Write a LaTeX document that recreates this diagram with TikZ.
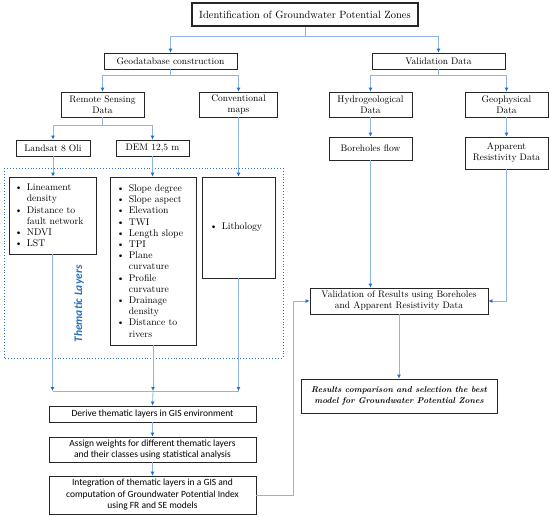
\documentclass[tikz,border=0pt]{standalone}
\usepackage{fontspec}
\newfontfamily\carlito{Carlito}
\usetikzlibrary{arrows.meta}
\definecolor{ln}{RGB}{141,180,226}
\definecolor{ah}{RGB}{31,110,210}
\definecolor{dotc}{RGB}{46,110,190}
\definecolor{thc}{RGB}{40,112,200}
\newcommand\bl{\makebox[12pt][l]{\textbullet}}
\newcommand\ind{\hspace*{12pt}}
\begin{document}
\begin{tikzpicture}[x=1pt,y=-1pt,
  box/.style={draw=black!85, line width=0.8pt, inner sep=0pt, align=center,
    font=\fontsize{9.5}{11}\selectfont},
  sbox/.style={box, font=\carlito\fontsize{9.5}{11.5}\selectfont},
  lst/.style={inner sep=0pt, align=left, anchor=west, font=\fontsize{9.7}{11.2}\selectfont},
  conn/.style={draw=ln, line width=0.8pt},
  arr/.style={conn, -{Latex[length=4pt,width=4pt,color=ah]}}
]
\useasboundingbox (0,0) rectangle (550,517);
% top level
\node[box, line width=1.2pt, minimum width=226pt, minimum height=23pt, font=\fontsize{10.5}{12}\selectfont] (top) at (305,14.5) {Identification of Groundwater Potential Zones};
\node[box, minimum width=133pt, minimum height=16pt] (geo) at (170.5,61) {Geodatabase construction};
\node[box, minimum width=133pt, minimum height=16pt] (val) at (438.5,61) {Validation Data};
\node[box, minimum width=83pt, minimum height=25pt] (rs) at (102.5,104.5) {Remote Sensing\\Data};
\node[box, minimum width=78pt, minimum height=25pt] (conv) at (238.5,104.5) {Conventional\\maps};
\node[box, minimum width=83pt, minimum height=25pt] (hyd) at (370.5,104.5) {Hydrogeological\\Data};
\node[box, minimum width=83pt, minimum height=25pt] (gph) at (506.5,104.5) {Geophysical\\Data};
\node[box, minimum width=74pt, minimum height=16pt] (lsat) at (53,148) {Landsat 8 Oli};
\node[box, minimum width=73pt, minimum height=16pt] (dem) at (152.5,148) {DEM 12,5 m};
\node[box, minimum width=83pt, minimum height=23pt] (bore) at (370.5,148.5) {Boreholes flow};
\node[box, minimum width=83pt, minimum height=32pt] (ares) at (506.5,153) {Apparent\\Resistivity Data};
% thematic layers frame
\draw[dotc, line width=0.9pt, dotted] (4,168) rectangle (283,358);
\node[box, minimum width=87pt, minimum height=77pt] (l1) at (52.5,215.5) {};
\node[box, minimum width=86pt, minimum height=168pt] (l2) at (153,261) {};
\node[box, minimum width=73pt, minimum height=101pt] (l3) at (238.5,227.5) {};
\node[lst] (t1) at ([xshift=6pt]l1.west) {\bl Lineament\\\ind density\\\bl Distance to\\\ind fault network\\\bl NDVI\\\bl LST};
\node[lst] (t2) at ([xshift=7pt]l2.west) {\bl Slope degree\\\bl Slope aspect\\\bl Elevation\\\bl TWI\\\bl Length slope\\\bl TPI\\\bl Plane\\\ind curvature\\\bl Profile\\\ind curvature\\\bl Drainage\\\ind density\\\bl Distance to\\\ind rivers};
\node[lst] (t3) at ([xshift=8pt]l3.west) {\bl Lithology};
\node[rotate=90, text=thc, font=\carlito\bfseries\itshape\fontsize{11.5}{12}\selectfont] (thl) at (79,304) {Thematic Layers};
% bottom chain
\node[sbox, minimum width=207pt, minimum height=16pt] (der) at (152.5,414) {Derive thematic layers in GIS environment};
\node[sbox, minimum width=207pt, minimum height=25pt] (asg) at (152.5,449.5) {Assign weights for different thematic layers\\and their classes using statistical analysis};
\node[sbox, minimum width=207pt, minimum height=38pt] (int) at (152.5,495) {Integration of thematic layers in a GIS and\\computation of Groundwater Potential Index\\using FR and SE models};
\node[box, minimum width=178pt, minimum height=26pt] (vres) at (399,301) {Validation of Results using Boreholes\\and Apparent Resistivity Data};
\node[box, minimum width=196pt, minimum height=34pt, font=\bfseries\itshape\fontsize{8.4}{11}\selectfont] (res) at (399,396) {Results comparison and selection\ the best\\model for Groundwater Potential Zones};
% connectors
\draw[conn] (top.south) -- ++(0,10) coordinate (j1);
\draw[arr] (j1) -| (geo.north);
\draw[arr] (j1) -| (val.north);
\draw[conn] (geo.south) -- ++(0,6) coordinate (j2);
\draw[arr] (j2) -| (rs.north);
\draw[arr] (j2) -| (conv.north);
\draw[conn] (val.south) -- ++(0,6) coordinate (j3);
\draw[arr] (j3) -| (hyd.north);
\draw[arr] (j3) -| (gph.north);
\draw[conn] (rs.south) -- ++(0,8) coordinate (j4);
\draw[arr] (j4) -| (lsat.north);
\draw[arr] (j4) -| (dem.north);
\draw[arr] (lsat.south) -- (lsat.south |- l1.north);
\draw[arr] (dem.south) -- (dem.south |- l2.north);
\draw[arr] (conv.south) -- (l3.north);
\coordinate (bar) at (152.5,391);
\draw[conn] (l1.south |- bar) -- (l3.south |- bar);
\draw[arr] (l1.south) -- (l1.south |- bar);
\draw[arr] (l2.south) -- (l2.south |- bar);
\draw[arr] (l3.south) -- (l3.south |- bar);
\draw[arr] (l2.south |- bar) -- (der.north);
\draw[arr] (der) -- (asg);
\draw[arr] (asg) -- (int);
\draw[arr] (hyd) -- (bore);
\draw[arr] (gph) -- (ares);
\draw[arr] (int.east) -- ++(37,0) |- (vres.west);
\draw[arr] (bore.south) -- (bore.south |- vres.north);
\draw[arr] (ares.south) |- (vres.east);
\draw[arr] (vres) -- (res);
\end{tikzpicture}
\end{document}
